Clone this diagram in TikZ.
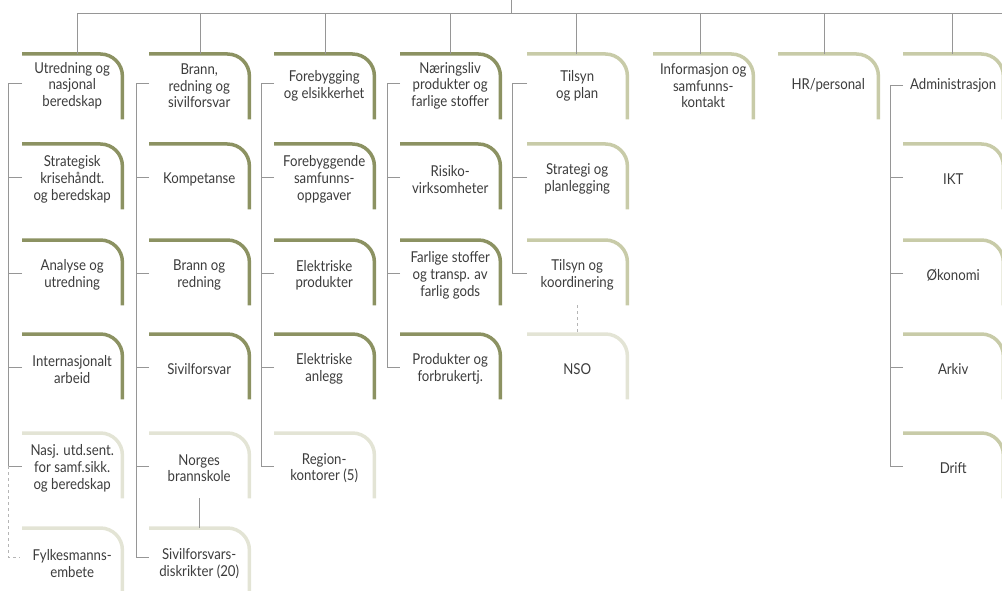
\documentclass[tikz,border=0pt]{standalone}
\usepackage{fontspec}
\setmainfont{Lato}[FakeStretch=0.88]
\definecolor{dark}{RGB}{140,146,98}
\definecolor{med}{RGB}{200,203,168}
\definecolor{light}{RGB}{227,228,213}
\definecolor{linegray}{RGB}{150,150,150}
\definecolor{textgray}{RGB}{60,60,60}
\newcommand\orgbox[6][5]{%
  \node[orgnode,minimum height={65pt+#1pt}] (#2) at (#3,#4) {#6};
  \draw[bar,draw=#5] (#2.north west) -- (#2.north east) -- ([yshift=#1pt]#2.south east);}
\begin{document}
\begin{tikzpicture}[x=1pt,y=-1pt,
  orgnode/.style={minimum width=100pt,inner sep=0pt,anchor=north west,
    align=center,text=textgray,font=\fontsize{15}{16.8}\selectfont},
  bar/.style={line width=3.5pt,rounded corners=22pt},
  conn/.style={draw=linegray,line width=0.9pt},
  dconn/.style={draw=linegray!70,line width=0.9pt,dash pattern=on 3pt off 3pt}]
\useasboundingbox (0,0) rectangle (1002,591);
% column 1
\orgbox[-2]{c1r1}{22}{54}{dark}{Utredning og\\nasjonal\\beredskap}
\orgbox{c1r2}{22}{144}{dark}{Strategisk\\krisehåndt.\\og beredskap}
\orgbox{c1r3}{22}{240}{dark}{Analyse og\\utredning}
\orgbox{c1r4}{22}{334}{dark}{Internasjonalt\\arbeid}
\orgbox{c1r5}{22}{433}{light}{Nasj. utd.sent.\\for samf.sikk.\\og beredskap}
\orgbox{c1r6}{22}{528}{light}{Fylkesmanns-\\embete}
% column 2
\orgbox[-2]{c2r1}{149}{54}{dark}{Brann,\\redning og\\sivilforsvar}
\orgbox{c2r2}{149}{144}{dark}{Kompetanse}
\orgbox{c2r3}{149}{240}{dark}{Brann og\\redning}
\orgbox{c2r4}{149}{334}{dark}{Sivilforsvar}
\orgbox{c2r5}{149}{433}{light}{Norges\\brannskole}
\orgbox{c2r6}{149}{528}{light}{Sivilforsvars-\\diskrikter (20)}
% column 3
\orgbox[-2]{c3r1}{274}{54}{dark}{Forebygging\\og elsikkerhet}
\orgbox{c3r2}{274}{144}{dark}{Forebyggende\\samfunns-\\oppgaver}
\orgbox{c3r3}{274}{240}{dark}{Elektriske\\produkter}
\orgbox{c3r4}{274}{334}{dark}{Elektriske\\anlegg}
\orgbox{c3r5}{274}{433}{light}{Region-\\kontorer (5)}
% column 4
\orgbox[-2]{c4r1}{400}{54}{dark}{Næringsliv\\produkter og\\farlige stoffer}
\orgbox{c4r2}{400}{144}{dark}{Risiko-\\virksomheter}
\orgbox{c4r3}{400}{240}{dark}{Farlige stoffer\\og transp. av\\farlig gods}
\orgbox{c4r4}{400}{334}{dark}{Produkter og\\forbrukertj.}
% column 5
\orgbox[-2]{c5r1}{527}{54}{med}{Tilsyn\\og plan}
\orgbox{c5r2}{527}{144}{med}{Strategi og\\planlegging}
\orgbox{c5r3}{527}{240}{med}{Tilsyn og\\koordinering}
\orgbox{c5r4}{527}{334}{light}{NSO}
% column 6, 7
\orgbox[-2]{c6r1}{653}{54}{med}{Informasjon og\\samfunns-\\kontakt}
\orgbox[-2]{c7r1}{778}{54}{med}{HR/personal}
% column 8
\orgbox[-2]{c8r1}{903}{54}{med}{Administrasjon}
\orgbox{c8r2}{903}{144}{med}{IKT}
\orgbox{c8r3}{903}{240}{med}{Økonomi}
\orgbox{c8r4}{903}{334}{med}{Arkiv}
\orgbox{c8r5}{903}{433}{med}{Drift}
% top bus
\coordinate (root) at (511,0);
\coordinate (busR) at (1002,13);
\draw[conn] (root) |- (busR);
\draw[conn] ([xshift=55pt]c1r1.north west) |- (root|-busR);
\draw[conn] ([xshift=51pt]c2r1.north west) |- (root|-busR);
\draw[conn] ([xshift=51pt]c3r1.north west) |- (root|-busR);
\draw[conn] ([xshift=50pt]c4r1.north west) |- (root|-busR);
\draw[conn] ([xshift=49pt]c5r1.north west) |- (root|-busR);
\draw[conn] ([xshift=47pt]c6r1.north west) |- (root|-busR);
\draw[conn] ([xshift=46pt]c7r1.north west) |- (root|-busR);
\draw[conn] ([xshift=49pt]c8r1.north west) |- (root|-busR);
% column trees
\draw[conn] ([yshift=2pt]c1r1.west) -- ++(-14,0) |- ([yshift=2pt]c1r5.west);
\foreach \n in {c1r2,c1r3,c1r4} \draw[conn] ([yshift=2pt]\n.west) -- ++(-14,0);
\draw[dconn] ([xshift=-14pt,yshift=2pt]c1r5.west) |- ([xshift=-2pt,yshift=6pt]c1r6.west);
\draw[conn] ([yshift=2pt]c2r1.west) -- ++(-13,0) |- ([yshift=6pt]c2r6.west);
\foreach \n in {c2r2,c2r3,c2r4,c2r5} \draw[conn] ([yshift=2pt]\n.west) -- ++(-13,0);
\draw[conn] (c2r5.south) ++(0,-5) -- (c2r6.north);
\draw[conn] ([yshift=2pt]c3r1.west) -- ++(-13,0) |- ([yshift=2pt]c3r5.west);
\foreach \n in {c3r2,c3r3,c3r4} \draw[conn] ([yshift=2pt]\n.west) -- ++(-13,0);
\draw[conn] ([yshift=2pt]c4r1.west) -- ++(-13,0) |- ([yshift=2pt]c4r4.west);
\foreach \n in {c4r2,c4r3} \draw[conn] ([yshift=2pt]\n.west) -- ++(-13,0);
\draw[conn] ([yshift=2pt]c5r1.west) -- ++(-15,0) |- ([yshift=2pt]c5r3.west);
\draw[conn] ([yshift=2pt]c5r2.west) -- ++(-15,0);
\draw[dconn] (c5r3.south) ++(0,-5) -- (c5r4.north);
\draw[conn] (c8r1.west) -- ++(-13,0) |- ([yshift=2pt]c8r5.west);
\foreach \n in {c8r2,c8r3,c8r4} \draw[conn] ([yshift=2pt]\n.west) -- ++(-13,0);
\end{tikzpicture}
\end{document}
